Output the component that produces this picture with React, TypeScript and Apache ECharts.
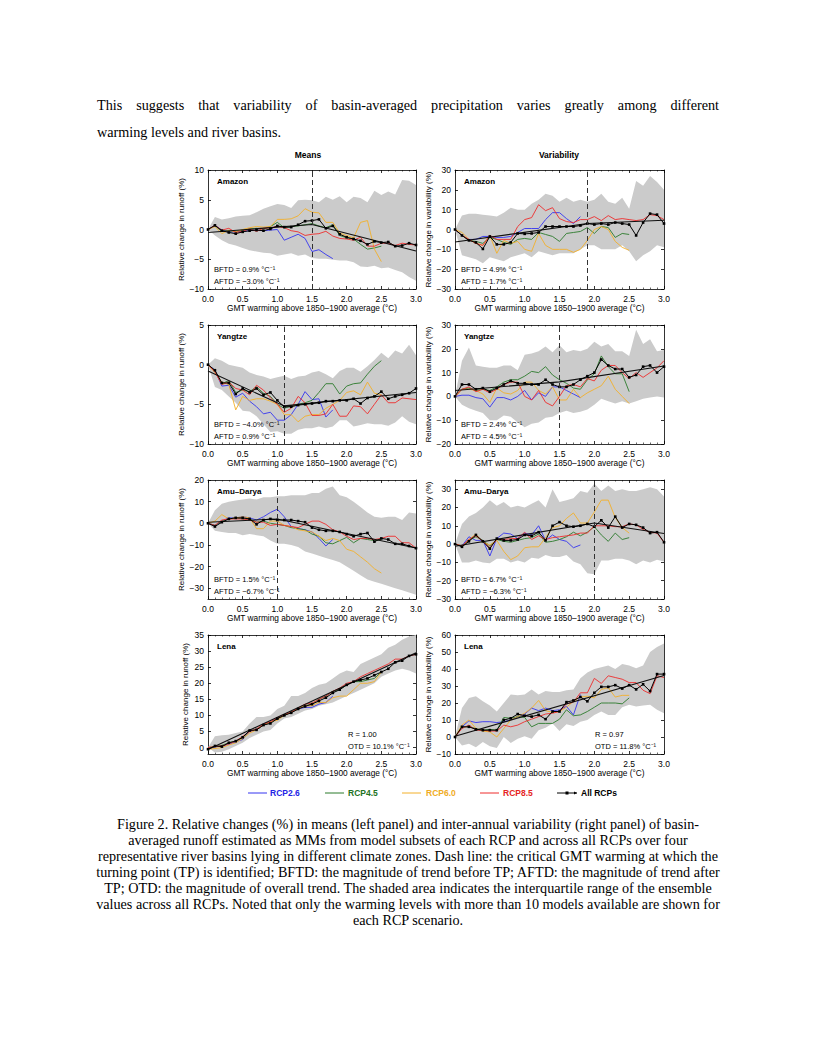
import React, { useEffect, useRef } from 'react';
import * as echarts from 'echarts';

// ---------- DATA ----------
const warming = [0.0, 0.1, 0.2, 0.3, 0.4, 0.5, 0.6, 0.7, 0.8, 0.9, 1.0, 1.1, 1.2, 1.3, 1.4, 1.5, 1.6, 1.7, 1.8, 1.9, 2.0, 2.1, 2.2, 2.3, 2.4, 2.5, 2.6, 2.7, 2.8, 2.9, 3.0];

// Amazon – means
const amazonMeanRcp26 = [0, 0.7, -0.1, -0.4, -0.4, -0.3, -0.2, -0.1, -0.2, -0.1, 0.0, -1.8, -1.3, -0.8, -1.5, -3.7, -3.4, -4.2, -4.9];
const amazonMeanRcp45 = [0, 0.6, -0.3, -0.2, -0.3, -0.1, 0.1, 0.2, 0.1, 0.5, 1.2, 0.3, 0.5, 0.6, 0.8, 1.0, 0.6, 0.3, 0.8, -1.0, -1.4, -1.6, -2.5, -3.3, -3.1, -2.8];
const amazonMeanRcp60 = [0, 0.5, -0.7, -0.1, -0.4, 0.0, 0.3, 0.5, 0.4, 0.5, 1.7, 1.7, 1.8, 2.3, 3.5, 2.9, 2.8, 1.2, 1.2, -0.6, -1.0, -1.4, 1.2, 1.5, -3.3, -5.4];
const amazonMeanRcp85 = [0, 0.7, -0.1, 0.2, -0.5, -0.3, 0.1, -0.3, 0.2, 0.3, 0.5, 0.3, -0.2, -0.4, -1.0, -0.8, -0.7, -0.3, -1.1, -1.5, -1.6, -1.8, -1.3, -2.8, -2.8, -2.3, -2.3, -2.7, -2.3, -2.5, -2.6];
const amazonMeanAll = [0, 0.7, -0.2, -0.5, -0.7, -0.4, -0.2, -0.1, -0.2, 0.1, 0.6, 0.4, 0.4, 0.8, 1.4, 1.5, 1.7, 0.2, 0.6, -0.8, -1.3, -1.6, -1.9, -2.5, -2.0, -2.2, -2.1, -2.8, -2.7, -2.3, -2.6];
const amazonMeanIqrHigh = [0, 2.1, 1.7, 1.9, 2.2, 2.3, 2.4, 2.9, 3.5, 3.9, 4.3, 4.1, 3.6, 4.9, 5.0, 4.9, 4.6, 5.5, 5.0, 5.6, 4.6, 5.5, 5.3, 4.6, 6.5, 5.8, 6.4, 5.9, 8.3, 8.2, 7.5];
const amazonMeanIqrLow = [0, -1.0, -1.8, -2.4, -2.7, -3.1, -3.5, -3.7, -3.9, -4.0, -4.4, -4.2, -4.0, -4.4, -4.2, -4.8, -4.9, -4.9, -5.1, -5.2, -5.2, -5.5, -6.2, -6.3, -6.1, -6.5, -6.4, -6.8, -7.2, -8.0, -8.6];
const amazonMeanTrend = [[0.0, -0.5], [1.5, 0.85], [3.0, -3.6]];

// Amazon – variability
const amazonVarRcp26 = [0, -3, -5, -5, -3.5, -3.5, -4, -4, -3.5, -1.5, 0.5, 0.5, 0.5, 5, 8.5, 8.5, 5.5, 3, 6.5];
const amazonVarRcp45 = [0, -3, -5.5, -6, -7, -4, -5, -6.5, -7.5, -5, -4.5, -5, -1.5, -2.5, -3.5, -6, -2, -1.5, -1, 1, -2, 1.5, 1, -4, -2, -2.5];
const amazonVarRcp60 = [0, -1.5, -5, -7, -8, -3, -12, -5.5, -7, -6, -10, -11, -2, -8, -10, -10, -10, -11.5, -10, -5.5, 0, 1.5, 0, -6, -9, -10.5];
const amazonVarRcp85 = [0, -3, -5, -7, -8, -3, -5, -5, -5, 1.5, 5, 6, 12.5, 9.5, 11, 5.5, 4, 3.5, 5, 5, 6.5, 4.5, 7, 5, 5.5, 5, 4.5, 5, 7.5, 7, 5];
const amazonVarAll = [0, -3, -5.5, -6.5, -9.8, -3.5, -7.5, -7.5, -6.5, -2, -2.2, -2, -1.5, 1.5, 1.5, 1.5, 1.5, 1.5, 2, 3, 2.5, 3, 2.5, 3.5, 3, 2.5, -3, 3.5, 8, 7.5, 3];
const amazonVarIqrHigh = [0, 7, 8, 8, 7.5, 7, 6.5, 8.5, 11, 10, 10, 13, 15, 18, 17, 14, 16, 14, 15, 14, 15, 18, 14, 13, 16, 10.5, 24.5, 22, 27, 24, 20];
const amazonVarIqrLow = [0, -13, -14, -15, -17, -14, -15, -16, -14, -13, -12, -14, -11, -12, -13, -12, -12, -12, -10, -8, -8, -10, -10, -10, -8, -11, -16, -13, -11, -8, -9];
const amazonVarTrend = [[0.0, -6.3], [1.9, 3.0], [3.0, 4.7]];

// Yangtze – means
const yangtzeMeanRcp26 = [0, -0.7, -2.7, -2.6, -4.1, -3.6, -4.6, -5.3, -6.2, -6.0, -7.0, -7.0, -6.3, -5.0, -3.4, -4.4, -4.3, -6.6, -5.7];
const yangtzeMeanRcp45 = [0, -0.8, -2.4, -2.0, -3.5, -3.2, -3.4, -2.8, -3.6, -4.0, -5.0, -5.5, -5.2, -5.0, -4.8, -4.5, -3.5, -2.4, -2.4, -3.7, -2.7, -2.4, -2.3, -1.2, -0.2, 0.5];
const yangtzeMeanRcp60 = [0, -1.0, -2.2, -2.5, -5.7, -4.0, -4.5, -4.3, -4.3, -4.6, -5.0, -6.3, -6.3, -7.2, -6.5, -6.3, -6.3, -5.5, -5.0, -4.5, -3.5, -3.3, -3.8, -2.2, -3.6, -3.8];
const yangtzeMeanRcp85 = [0, -0.9, -2.5, -2.2, -3.0, -3.2, -3.8, -2.6, -3.2, -4.2, -5.0, -6.0, -5.5, -4.0, -4.8, -6.4, -6.4, -6.2, -5.0, -6.5, -6.5, -5.2, -5.3, -6.2, -5.0, -3.8, -4.8, -4.8, -4.2, -4.3, -4.4];
const yangtzeMeanAll = [0, -0.7, -2.3, -2.3, -3.7, -3.0, -3.5, -3.0, -3.8, -3.5, -4.5, -5.3, -5.3, -5.1, -5.0, -4.9, -4.8, -4.6, -4.6, -4.5, -4.5, -4.3, -4.9, -4.2, -4.0, -3.4, -4.3, -4.0, -3.8, -3.6, -3.0];
const yangtzeMeanIqrHigh = [0, 0.8, 0.5, 0.0, -0.2, -0.4, -1.0, -1.3, -1.5, -1.8, -1.6, -1.4, -1.8, -1.5, -1.4, -1.0, -0.8, -1.2, -1.7, -0.8, -0.4, -0.4, -0.9, -0.2, 0.6, 1.5, 0.8, 1.8, 1.4, 2.5, 1.2];
const yangtzeMeanIqrLow = [0, -2.8, -3.2, -4.0, -4.8, -5.8, -5.9, -6.5, -7.5, -8.5, -8.4, -8.7, -8.7, -8.2, -8.0, -8.0, -7.8, -8.0, -7.8, -7.0, -7.0, -7.8, -7.6, -7.4, -7.5, -7.5, -7.7, -7.3, -6.5, -7.2, -7.5];
const yangtzeMeanTrend = [[0.0, -0.8], [1.1, -5.2], [3.0, -3.5]];

// Yangtze – variability
const yangtzeVarRcp26 = [0, 0.5, 0.5, -0.5, -1, -4.5, -0.5, -0.5, -1.5, 0, 2.5, -1.5, 1.5, 0, 4, 4, 2.5, 1, -0.5];
const yangtzeVarRcp45 = [0, 3, 3.5, 2.5, 3, 2.5, 4, 6, 7, 7, 8.5, 10.5, 10, 12.5, 9, 7, 5.5, 3.5, 3, 7, 9.5, 17, 12.5, 9.5, 9.5, 2];
const yangtzeVarRcp60 = [0, 3, 3, 2.5, 1, -2.5, 3.5, 1.5, 1, 2.5, 6, 6, 2.5, 1, 4, -1.5, -1.5, 3, -0.5, 1.5, 3, 4.5, 8.5, 3, 0, -3];
const yangtzeVarRcp85 = [0, 3, 4, 2, 3, 1.5, 3, 5, 6, 6, 0, -1.5, 2.5, -2.5, -4, 0, 4.5, 5, 4, 7.5, 6.5, 11, 13, 13, 10, 7.5, 10, 8, 10, 12, 15];
const yangtzeVarAll = [0, 5, 5, 3, 3.5, 2, 3.5, 5, 6.5, 5.5, 5.5, 5, 5, 7, 5, 4, 4, 5, 7, 8.5, 10, 15.5, 13, 11.5, 11.5, 8, 9, 12.5, 13, 10, 12.5];
const yangtzeVarIqrHigh = [0, 15, 20.5, 13, 12.5, 12, 12, 13, 13, 11, 17.5, 18, 19, 21, 18.5, 21.5, 18.5, 19.5, 19, 20, 23, 21, 22, 19, 19, 17, 28, 22, 24, 19, 19.5];
const yangtzeVarIqrLow = [0, -3.5, -5, -6, -7, -10, -10, -8, -8.5, -11, -13, -11.5, -11, -9, -8.5, -7, -6, -7, -6.5, -5.5, -3.5, -1, -2, -3, -2, -3, -2, -1, -0.5, 0, -0.5];
const yangtzeVarTrend = [[0.0, 2.5], [1.5, 6.1], [3.0, 12.8]];

// Amu-Darya – means
const amuMeanRcp26 = [0, -1, 1, 2.5, 2.5, 3, 2.5, 1.5, 3, 5, 6.5, 3, -1.5, -2.5, -3, -4, -7, -10.5, -7.5];
const amuMeanRcp45 = [0, -1, 1, 2, 2.5, 2, 2, 0.5, 1, 0, -0.5, -1, -2, -2.5, -3, -5, -6, -9, -9.5, -8, -6.5, -9, -7, -7.5, -8, -7.5];
const amuMeanRcp60 = [0, 1, 4, 2, 2.5, 3, 2.5, -2.5, -2.5, 1, 1, -1, -1.5, -3, -3.5, -4, -6, -8, -7, -8, -12, -13, -15.5, -18, -21, -23];
const amuMeanRcp85 = [0, -1, 1.5, 2, 2, 2, 1.5, 0.5, 0.5, -1, -0.5, -1, -1.5, -2, -0.5, 1, 1, -0.5, -3, -4, -6, -7.5, -7, -7, -7.5, -7, -6, -6, -9, -9, -11.5];
const amuMeanAll = [0, -1.5, 0.5, 2, 2.5, 2.5, 2, -0.5, 1.5, 2, 1.5, 1.5, 1.5, 1, 0.5, -2, -3, -3.5, -3.5, -4, -5, -6, -5, -4.5, -8.5, -7, -7.5, -9.5, -9.5, -10.5, -11.5];
const amuMeanIqrHigh = [0, 6, 9, 10, 10.5, 11, 11.5, 11, 12, 12, 12.5, 12.5, 13, 13, 13, 14, 14, 16, 17, 13, 12, 10, 7.5, 5, 3, 2.5, 3, 3, 1.5, 5, 4.5];
const amuMeanIqrLow = [0, -3.5, -4, -4.5, -4.5, -5.5, -5, -5.5, -6, -8, -9.5, -9.5, -10, -11, -13, -14, -15, -16, -17, -18, -20, -22, -24, -26, -27, -28, -29, -30, -31, -32, -33];
const amuMeanTrend = [[0.0, 0.5], [1.0, 2.0], [3.0, -11.4]];

// Amu-Darya – variability
const amuVarRcp26 = [0, -1, 4, 2, 2, -6.5, 3, 6, 5.5, 3, 6, 5, 10, 2, 5, 2.5, 1.5, -2, -0.5];
const amuVarRcp45 = [0, -1, 2, 4, 2, -1, 2.5, 1.5, 1, 2, 3, 3.5, 5.5, 1, 1.5, 2.5, 4, 6.5, 4.5, 6.5, 9.5, 5, 1.5, 6, 2.5, 3.5];
const amuVarRcp60 = [0, -1, 2.5, 5.5, 1, -0.5, 2, -4, -8.5, -6.5, -2, -1.5, -1.5, 3.5, 9, 10, 14, 17, 11.5, 11.5, 17.5, 24, 24, 14.5, 9, 6];
const amuVarRcp85 = [0, -1, 2.5, 4.5, 1.5, -2, 2.5, 2.5, 3, 3, 6.5, 2.5, 4.5, 2.5, 3.5, 4, 4.5, 5, 6, 6, 10, 10, 10, 9.5, 9.5, 11, 10.5, 8, 6.5, 6, 1];
const amuVarAll = [0, -1.5, 1.5, 5, 1.5, -2.5, 3, 2, 2, 2.5, 5, 4.5, 6.5, 2, 10, 12, 10, 9.5, 10, 11, 9.5, 13, 9, 15, 9, 11, 10.5, 9, 6, 6.5, 1];
const amuVarIqrHigh = [0, 11, 15, 17, 20, 24, 21, 23, 20, 21, 20, 22, 24, 20, 30, 23, 24, 25, 29, 28, 33, 29, 32, 29, 30, 29, 29, 30, 31, 30, 26];
const amuVarIqrLow = [0, -10, -10, -9, -10, -10.5, -8, -8, -10, -9, -10, -7.5, -8, -6, -7, -7, -6, -9.5, -11, -16, -16.5, -9, -9, -8, -8, -9, -11, -9, -10, -8.5, -9.5];
const amuVarTrend = [[0.0, -1.2], [2.0, 11.5], [3.0, 5.8]];

// Lena – means
const lenaMeanRcp26 = [-0.3, 0.2, 0.5, 1.0, 1.8, 2.5, 5.0, 5.5, 7.0, 8.0, 9.0, 10.0, 11.0, 12.0, 12.5, 12.5, 13.5, 14.0, 16.0];
const lenaMeanRcp45 = [0, 0.3, 0.7, 1.5, 2.0, 3.0, 5.2, 5.5, 7.0, 7.8, 9.0, 10.0, 11.0, 12.0, 13.0, 13.5, 15.0, 16.0, 17.5, 18.0, 19.5, 20.5, 20.5, 21.0, 21.5, 23.5];
const lenaMeanRcp60 = [-0.5, -0.3, 0.0, 0.8, 1.5, 2.8, 4.5, 5.5, 7.0, 8.0, 8.5, 10.0, 11.0, 12.0, 13.0, 13.0, 14.0, 14.0, 15.5, 16.0, 16.0, 18.0, 20.0, 20.0, 20.5, 23.5];
const lenaMeanRcp85 = [0, 0.3, 0.5, 1.2, 2.0, 3.5, 5.0, 5.8, 7.3, 8.0, 9.3, 10.3, 11.0, 12.3, 13.5, 13.8, 15.0, 16.0, 17.5, 18.5, 20.0, 20.5, 22.0, 23.0, 24.0, 25.0, 26.0, 27.5, 27.5, 28.5, 29.0];
const lenaMeanAll = [-0.5, 0.5, 0.3, 1.5, 2.0, 3.2, 5.3, 5.5, 7.0, 7.5, 9.0, 10.0, 10.8, 12.0, 12.8, 13.5, 14.5, 15.5, 17.0, 18.0, 19.5, 20.5, 21.0, 21.5, 22.5, 23.5, 24.5, 26.5, 27.0, 28.5, 29.0];
const lenaMeanIqrHigh = [0, 3.5, 3.8, 4.0, 4.5, 5.0, 7.5, 9.5, 9.5, 10.0, 12.0, 13.0, 16.0, 16.0, 17.0, 18.5, 19.5, 20.0, 21.5, 23.0, 24.0, 23.5, 26.0, 27.0, 28.0, 29.0, 31.0, 32.0, 33.5, 34.5, 35.0];
const lenaMeanIqrLow = [0, -1.5, -1.3, -0.5, 0.5, 1.5, 3.0, 4.0, 5.0, 5.5, 7.5, 9.0, 9.5, 10.5, 11.5, 12.0, 13.0, 13.5, 14.0, 15.0, 16.0, 17.0, 18.0, 19.0, 20.0, 22.0, 23.0, 24.0, 24.5, 24.0, 23.0];
const lenaMeanTrend = [[0.0, -0.6], [3.0, 29.5]];

// Lena – variability
const lenaVarRcp26 = [0, 6, 9.5, 8.5, 9, 9, 8.5, 9, 10, 12, 13.5, 17, 15.5, 17, 15.5, 16, 18, 13, 25];
const lenaVarRcp45 = [0, 6, 6, 5, 4, 4.5, 4, 11.5, 11, 12, 11.5, 6, 8, 8, 8, 10.5, 16, 12.5, 13, 15, 17.5, 20, 20, 20, 19.5, 23];
const lenaVarRcp60 = [0, 7, 10, 5, 3.5, 3, 0, 5, 10, 12, 14, 17, 21.5, 15.5, 14.5, 15, 17.5, 21, 23.5, 24, 23, 28, 29, 23.5, 24.5, 24.5];
const lenaVarRcp85 = [0, 5, 7, 4, 4, 3.5, 3.5, 7, 6, 7, 9, 10.5, 12, 13.5, 14, 15, 19.5, 20.5, 26, 26, 34.5, 31.5, 36, 35, 34, 32, 32, 27.5, 25.5, 36, 35];
const lenaVarAll = [0, 6, 6, 4.5, 4, 4, 4, 10, 11, 13.5, 12.5, 12, 13, 10.5, 15, 15, 20.5, 21.5, 23.5, 21, 26, 29.5, 29.5, 30.5, 28.5, 30.5, 28, 31, 27, 37, 37];
const lenaVarIqrHigh = [0, 17, 23, 24, 21, 18.5, 15, 20, 25, 24.5, 25, 28, 25, 27, 26.5, 26.5, 27.5, 28, 34.5, 38, 40, 41, 42, 40, 43, 42, 40.5, 42, 50, 53, 55];
const lenaVarIqrLow = [0, -5, -4, -6, -3, -5.5, -6.5, 0, -3.5, -1, 0.5, -1, 4, 5.5, 8, 3.5, 7.5, 6.5, 9, 10, 13, 15, 13, 13, 17.5, 19, 18, 18.5, 19, 16, 14];
const lenaVarTrend = [[0.0, 0.4], [3.0, 36.2]];

// tick settings / labels
const xTickStep = 0.5;
const legendLabels = ['RCP2.6', 'RCP4.5', 'RCP6.0', 'RCP8.5', 'All RCPs'];

// ---------- STYLE ----------
const FONT = '"Liberation Sans", Arial, Helvetica, sans-serif';
const SERIF = '"Liberation Serif", "Times New Roman", Times, serif';
const C26 = '#3434f0';
const C45 = '#2b7a2b';
const C60 = '#f3b02a';
const C85 = '#ee2c2c';
const BAND = '#cbcbcb';
const COLS = [208, 455];
const COLW = [208, 209];
const ROWS = [170, 325, 480, 635];
const GH = 119;
const X_NAME = 'GMT warming above 1850\u20131900 average (\u00B0C)';
const Y_NAMES = ['Relative change in runoff (%)', 'Relative change in variability (%)'];

type Panel = {
  basin: string;
  rcp26: number[]; rcp45: number[]; rcp60: number[]; rcp85: number[]; all: number[];
  low: number[]; high: number[]; trend: number[][];
  tp: number | null;
  yMin: number; yMax: number; yInterval?: number; ySplit?: number;
  hideMin?: boolean; hideMax?: boolean;
  notes: string[]; notesRight?: boolean;
};

const panels: Panel[] = [
  { basin: 'Amazon', rcp26: amazonMeanRcp26, rcp45: amazonMeanRcp45, rcp60: amazonMeanRcp60, rcp85: amazonMeanRcp85, all: amazonMeanAll, low: amazonMeanIqrLow, high: amazonMeanIqrHigh, trend: amazonMeanTrend, tp: 1.5, yMin: -10, yMax: 10, yInterval: 5, notes: ['BFTD = 0.9% \u00B0C\u207B\u00B9', 'AFTD = \u22123.0% \u00B0C\u207B\u00B9'] },
  { basin: 'Amazon', rcp26: amazonVarRcp26, rcp45: amazonVarRcp45, rcp60: amazonVarRcp60, rcp85: amazonVarRcp85, all: amazonVarAll, low: amazonVarIqrLow, high: amazonVarIqrHigh, trend: amazonVarTrend, tp: 1.9, yMin: -30, yMax: 30, yInterval: 10, notes: ['BFTD = 4.9% \u00B0C\u207B\u00B9', 'AFTD = 1.7% \u00B0C\u207B\u00B9'] },
  { basin: 'Yangtze', rcp26: yangtzeMeanRcp26, rcp45: yangtzeMeanRcp45, rcp60: yangtzeMeanRcp60, rcp85: yangtzeMeanRcp85, all: yangtzeMeanAll, low: yangtzeMeanIqrLow, high: yangtzeMeanIqrHigh, trend: yangtzeMeanTrend, tp: 1.1, yMin: -10, yMax: 5, yInterval: 5, notes: ['BFTD = \u22124.0% \u00B0C\u207B\u00B9', 'AFTD = 0.9% \u00B0C\u207B\u00B9'] },
  { basin: 'Yangtze', rcp26: yangtzeVarRcp26, rcp45: yangtzeVarRcp45, rcp60: yangtzeVarRcp60, rcp85: yangtzeVarRcp85, all: yangtzeVarAll, low: yangtzeVarIqrLow, high: yangtzeVarIqrHigh, trend: yangtzeVarTrend, tp: 1.5, yMin: -20, yMax: 30, yInterval: 10, notes: ['BFTD = 2.4% \u00B0C\u207B\u00B9', 'AFTD = 4.5% \u00B0C\u207B\u00B9'] },
  { basin: 'Amu\u2013Darya', rcp26: amuMeanRcp26, rcp45: amuMeanRcp45, rcp60: amuMeanRcp60, rcp85: amuMeanRcp85, all: amuMeanAll, low: amuMeanIqrLow, high: amuMeanIqrHigh, trend: amuMeanTrend, tp: 1.0, yMin: -35, yMax: 20, ySplit: 5, hideMin: true, notes: ['BFTD = 1.5% \u00B0C\u207B\u00B9', 'AFTD = \u22126.7% \u00B0C\u207B\u00B9'] },
  { basin: 'Amu\u2013Darya', rcp26: amuVarRcp26, rcp45: amuVarRcp45, rcp60: amuVarRcp60, rcp85: amuVarRcp85, all: amuVarAll, low: amuVarIqrLow, high: amuVarIqrHigh, trend: amuVarTrend, tp: 2.0, yMin: -30, yMax: 35, yInterval: 10, hideMax: true, notes: ['BFTD = 6.7% \u00B0C\u207B\u00B9', 'AFTD = \u22126.3% \u00B0C\u207B\u00B9'] },
  { basin: 'Lena', rcp26: lenaMeanRcp26, rcp45: lenaMeanRcp45, rcp60: lenaMeanRcp60, rcp85: lenaMeanRcp85, all: lenaMeanAll, low: lenaMeanIqrLow, high: lenaMeanIqrHigh, trend: lenaMeanTrend, tp: null, yMin: -2, yMax: 35, ySplit: 7, hideMin: true, notes: ['R = 1.00', 'OTD = 10.1% \u00B0C\u207B\u00B9'], notesRight: true },
  { basin: 'Lena', rcp26: lenaVarRcp26, rcp45: lenaVarRcp45, rcp60: lenaVarRcp60, rcp85: lenaVarRcp85, all: lenaVarAll, low: lenaVarIqrLow, high: lenaVarIqrHigh, trend: lenaVarTrend, tp: null, yMin: -10, yMax: 60, yInterval: 10, notes: ['R = 0.97', 'OTD = 11.8% \u00B0C\u207B\u00B9'], notesRight: true },
];

const pairs = (vals: number[]) => vals.map((v, i) => [warming[i], v]);
const fmtY = (v: number) => String(Math.round(v)).replace('-', '\u2212');

function txt(x: number, y: number, text: string, font: string, fill = '#000', align = 'left') {
  return {
    type: 'text', x, y, z: 100, silent: true,
    style: { text, fill, font, align, verticalAlign: 'middle', textAlign: align, textVerticalAlign: 'middle' },
  };
}

function buildOption() {
  const grid: any[] = [];
  const xAxis: any[] = [];
  const yAxis: any[] = [];
  const series: any[] = [];
  const elements: any[] = [];
  const ls = { color: '#000', width: 0.8 };

  panels.forEach((p, i) => {
    const row = Math.floor(i / 2);
    const col = i % 2;
    const L = COLS[col], T = ROWS[row], W = COLW[col];
    grid.push({ left: L, top: T, width: W, height: GH, show: false, containLabel: false, outerBoundsMode: 'none' });

    const xc = {
      type: 'value', gridIndex: i, min: 0, max: 3, interval: xTickStep,
      axisLine: { show: true, onZero: false, lineStyle: ls },
      axisTick: { show: true, inside: true, length: 3, lineStyle: ls },
      minorTick: { show: true, splitNumber: 5, length: 1.5, lineStyle: { color: '#000', width: 0.6 } },
      splitLine: { show: false }, minorSplitLine: { show: false },
    };
    xAxis.push({
      ...xc, position: 'bottom',
      axisLabel: { show: true, fontSize: 8.5, color: '#000', fontFamily: FONT, margin: 5, formatter: (v: number) => v.toFixed(1) },
      name: X_NAME, nameLocation: 'middle', nameGap: 15,
      nameTextStyle: { fontSize: 8.3, color: '#000', fontFamily: FONT },
    });
    xAxis.push({ ...xc, position: 'top', axisLabel: { show: false } });

    const yc: any = {
      type: 'value', gridIndex: i, min: p.yMin, max: p.yMax,
      axisLine: { show: true, onZero: false, lineStyle: ls },
      axisTick: { show: true, inside: true, length: 3, lineStyle: ls },
      splitLine: { show: false },
    };
    if (p.yInterval) yc.interval = p.yInterval;
    if (p.ySplit) yc.splitNumber = p.ySplit;
    yAxis.push({
      ...yc, position: 'left',
      axisLabel: {
        show: true, fontSize: 8.5, color: '#000', fontFamily: FONT, margin: 4, formatter: fmtY,
        showMinLabel: p.hideMin ? false : true, showMaxLabel: p.hideMax ? false : true,
      },
      name: Y_NAMES[col], nameLocation: 'middle', nameGap: col === 0 ? 19 : 21,
      nameTextStyle: { fontSize: 8, color: '#000', fontFamily: FONT },
    });
    yAxis.push({ ...yc, position: 'right', axisLabel: { show: false } });

    const xi = 2 * i, yi = 2 * i;
    // interquartile band
    series.push({
      type: 'custom', xAxisIndex: xi, yAxisIndex: yi, silent: true, z: 1,
      encode: { x: 0, y: [1, 2] },
      data: p.low.map((v, k) => [warming[k], v, p.high[k]]),
      renderItem: (params: any, api: any) => {
        if (params.dataIndexInside !== 0) return null;
        const n = params.dataInsideLength;
        const up: number[][] = [];
        const lo: number[][] = [];
        for (let k = 0; k < n; k++) {
          up.push(api.coord([api.value(0, k), api.value(2, k)]));
          lo.push(api.coord([api.value(0, k), api.value(1, k)]));
        }
        return { type: 'polygon', shape: { points: up.concat(lo.reverse()) }, style: { fill: BAND, stroke: 'none' } };
      },
    });
    const rcpLine = (data: number[], color: string, name: string) => ({
      type: 'line', name, xAxisIndex: xi, yAxisIndex: yi, data: pairs(data), symbol: 'none', z: 2,
      lineStyle: { color, width: 0.9 }, itemStyle: { color }, silent: true,
    });
    series.push(rcpLine(p.rcp26, C26, legendLabels[0]));
    series.push(rcpLine(p.rcp45, C45, legendLabels[1]));
    series.push(rcpLine(p.rcp60, C60, legendLabels[2]));
    series.push(rcpLine(p.rcp85, C85, legendLabels[3]));
    series.push({
      type: 'line', xAxisIndex: xi, yAxisIndex: yi, data: p.trend, symbol: 'none', z: 3, silent: true,
      lineStyle: { color: '#111', width: 1.1 },
    });
    const allSeries: any = {
      type: 'line', name: legendLabels[4], xAxisIndex: xi, yAxisIndex: yi, data: pairs(p.all), z: 4, silent: true,
      symbol: 'rect', symbolSize: 2.6, showSymbol: true, itemStyle: { color: '#000' },
      lineStyle: { color: '#000', width: 1 },
    };
    if (p.tp !== null) {
      allSeries.markLine = {
        silent: true, symbol: ['none', 'none'], label: { show: false }, animation: false,
        lineStyle: { color: '#333', type: [5, 3], width: 1 },
        data: [{ xAxis: p.tp }],
      };
    }
    series.push(allSeries);

    // annotations
    elements.push(txt(L + 9, T + 11.5, p.basin, `bold 8px ${FONT}`));
    const nx = p.notesRight ? L + 140 : L + 6;
    elements.push(txt(nx, T + GH - 19.5, p.notes[0], `7.5px ${FONT}`));
    elements.push(txt(nx, T + GH - 8, p.notes[1], `7.5px ${FONT}`));
  });

  // column titles
  elements.push(txt(308, 155, 'Means', `bold 8.5px ${FONT}`, '#000', 'center'));
  elements.push(txt(559, 155, 'Variability', `bold 8.5px ${FONT}`, '#000', 'center'));

  // legend
  const LY = 793;
  const legendItems = [
    { x1: 248, x2: 267, tx: 270, color: C26, text: legendLabels[0], tcol: '#2424e6' },
    { x1: 325, x2: 344, tx: 348, color: C45, text: legendLabels[1], tcol: '#237223' },
    { x1: 402, x2: 421, tx: 426, color: C60, text: legendLabels[2], tcol: '#f0ac24' },
    { x1: 480, x2: 499, tx: 503, color: C85, text: legendLabels[3], tcol: '#e52424' },
    { x1: 557, x2: 577, tx: 581, color: '#000', text: legendLabels[4], tcol: '#000' },
  ];
  legendItems.forEach((it) => {
    elements.push({ type: 'line', z: 100, silent: true, shape: { x1: it.x1, y1: LY, x2: it.x2, y2: LY }, style: { stroke: it.color, lineWidth: 1 } });
    elements.push(txt(it.tx, LY, it.text, `bold 8.5px ${FONT}`, it.tcol));
  });
  elements.push({ type: 'rect', z: 100, silent: true, shape: { x: 565.5, y: LY - 1.5, width: 3, height: 3 }, style: { fill: '#000' } });
  elements.push({ type: 'polygon', z: 100, silent: true, shape: { points: [[577, LY], [574, LY - 1.6], [574, LY + 1.6]] }, style: { fill: '#000' } });

  return {
    animation: false,
    backgroundColor: 'transparent',
    textStyle: { fontFamily: FONT },
    grid, xAxis, yAxis, series,
    graphic: { elements },
  };
}

const paragraphLines = [
  'This suggests that variability of basin-averaged precipitation varies greatly among different',
  'warming levels and river basins.',
];

const captionLines = [
  'Figure 2. Relative changes (%) in means (left panel) and inter-annual variability (right panel) of basin-',
  'averaged runoff estimated as MMs from model subsets of each RCP and across all RCPs over four',
  'representative river basins lying in different climate zones. Dash line: the critical GMT warming at which the',
  'turning point (TP) is identified; BFTD: the magnitude of trend before TP; AFTD: the magnitude of trend after',
  'TP; OTD: the magnitude of overall trend. The shaded area indicates the interquartile range of the ensemble',
  'values across all RCPs. Noted that only the warming levels with more than 10 models available are shown for',
  'each RCP scenario.',
];

export default function App() {
  const ref = useRef<HTMLDivElement>(null);
  useEffect(() => {
    if (!ref.current) return;
    const chart = echarts.init(ref.current, null, { renderer: 'svg' });
    chart.setOption(buildOption() as any);
    return () => chart.dispose();
  }, []);
  return (
    <div style={{ position: 'absolute', left: 0, top: 0, width: 816, height: 1056, background: '#fff', overflow: 'hidden' }}>
      <div ref={ref} style={{ position: 'absolute', left: 0, top: 0, width: 816, height: 1056 }} />
      <div style={{ position: 'absolute', left: 97, top: 91.5, width: 622, fontFamily: SERIF, fontSize: 14.2, lineHeight: '27.5px', color: '#000' }}>
        <div style={{ textAlign: 'justify', textAlignLast: 'justify' } as any}>{paragraphLines[0]}</div>
        <div>{paragraphLines[1]}</div>
      </div>
      <div style={{ position: 'absolute', left: 0, top: 816, width: 816, fontFamily: SERIF, fontSize: 14.2, lineHeight: '16px', color: '#000', textAlign: 'center' }}>
        {captionLines.map((l, i) => (
          <div key={i} style={{ whiteSpace: 'nowrap' }}>{l}</div>
        ))}
      </div>
    </div>
  );
}
